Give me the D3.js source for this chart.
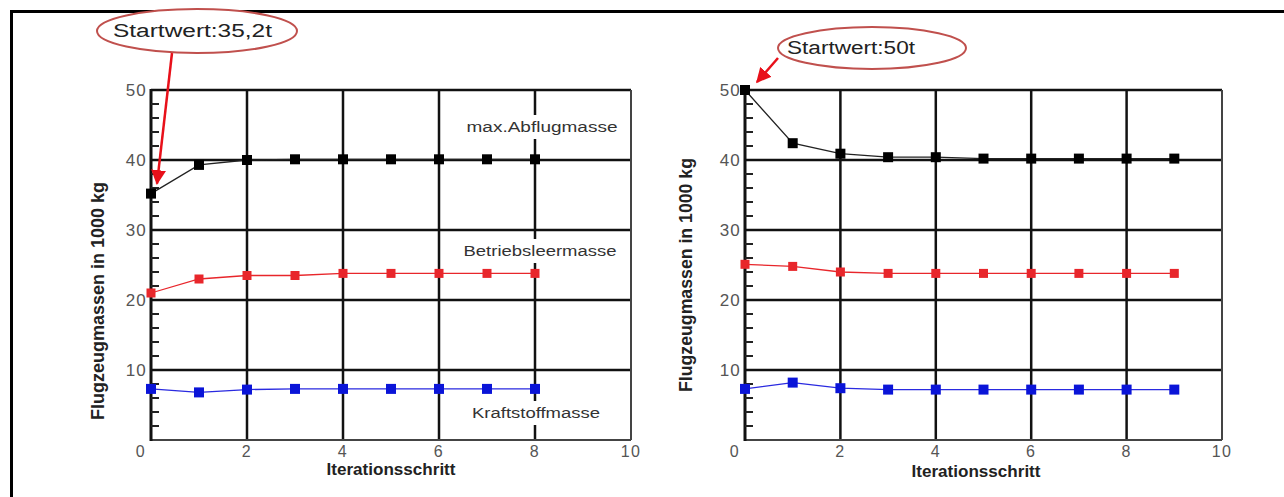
<!DOCTYPE html>
<html><head><meta charset="utf-8">
<script src="https://cdn.jsdelivr.net/npm/d3@7"></script>
<style>body{margin:0;background:#fff}svg{display:block}</style>
</head><body>
<svg id="c" width="1284" height="497"></svg>
<script>
const xTicks = [0, 2, 4, 6, 8, 10];
const yTicks = [0, 10, 20, 30, 40, 50];
const yMinor = [2, 4, 6, 8, 12, 14, 16, 18, 22, 24, 26, 28, 32, 34, 36, 38, 42, 44, 46, 48];

// Left chart (start value 35.2 t)
const stepsLeft = [0, 1, 2, 3, 4, 5, 6, 7, 8];
const maxAbflugLeft = [35.2, 39.3, 40.0, 40.1, 40.1, 40.1, 40.1, 40.1, 40.1];
const betriebsLeft = [21.0, 23.0, 23.5, 23.5, 23.8, 23.8, 23.8, 23.8, 23.8];
const kraftstoffLeft = [7.3, 6.8, 7.2, 7.3, 7.3, 7.3, 7.3, 7.3, 7.3];

// Right chart (start value 50 t)
const stepsRight = [0, 1, 2, 3, 4, 5, 6, 7, 8, 9];
const maxAbflugRight = [50.0, 42.4, 40.9, 40.4, 40.4, 40.2, 40.2, 40.2, 40.2, 40.2];
const betriebsRight = [25.1, 24.8, 24.0, 23.8, 23.8, 23.8, 23.8, 23.8, 23.8, 23.8];
const kraftstoffRight = [7.3, 8.2, 7.4, 7.2, 7.2, 7.2, 7.2, 7.2, 7.2, 7.2];

const seriesColors = ["#000000", "#e8262b", "#0a14d8"];
const seriesNames = ["max.Abflugmasse", "Betriebsleermasse", "Kraftstoffmasse"];
const lineColors = ["#222222", "#e8262b", "#2a2ae0"];

const svg = d3.select("#c");
const font = "'Liberation Sans', Arial, sans-serif";

// outer frame (top and left)
svg.append("line").attr("x1", 10).attr("x2", 1284).attr("y1", 11.5).attr("y2", 11.5).attr("stroke", "#000").attr("stroke-width", 3);
svg.append("line").attr("x1", 11.5).attr("x2", 11.5).attr("y1", 10).attr("y2", 497).attr("stroke", "#000").attr("stroke-width", 3);

function drawChart(cfg) {
  const x = d3.scaleLinear().domain([0, 10]).range([cfg.x0, cfg.x1]);
  const y = d3.scaleLinear().domain([0, 50]).range([cfg.y0, cfg.y1]);
  const g = svg.append("g");

  // gridlines
  g.selectAll(".gx").data(xTicks.slice(1, -1)).join("line")
    .attr("x1", d => x(d)).attr("x2", d => x(d)).attr("y1", y(0)).attr("y2", y(50))
    .attr("stroke", "#111").attr("stroke-width", 2.5);
  g.selectAll(".gy").data(yTicks.slice(1, -1)).join("line")
    .attr("x1", x(0)).attr("x2", x(10)).attr("y1", d => y(d)).attr("y2", d => y(d))
    .attr("stroke", "#111").attr("stroke-width", 2.5);

  // frame
  g.append("line").attr("x1", x(0)).attr("x2", x(10)).attr("y1", y(50)).attr("y2", y(50)).attr("stroke", "#111").attr("stroke-width", 2.5);
  g.append("line").attr("x1", x(10)).attr("x2", x(10)).attr("y1", y(50)).attr("y2", y(0)).attr("stroke", "#444").attr("stroke-width", 2);
  g.append("line").attr("x1", x(0)).attr("x2", x(10)).attr("y1", y(0)).attr("y2", y(0)).attr("stroke", "#444").attr("stroke-width", 2);
  g.append("line").attr("x1", x(0)).attr("x2", x(0)).attr("y1", y(0) + 1).attr("y2", y(50) - 1).attr("stroke", "#111").attr("stroke-width", 3);

  // minor ticks inward
  g.selectAll(".mt").data(yMinor).join("line")
    .attr("x1", x(0)).attr("x2", x(0) + 8).attr("y1", d => y(d)).attr("y2", d => y(d))
    .attr("stroke", "#222").attr("stroke-width", 2);

  // tick labels
  g.selectAll(".xl").data(xTicks).join("text")
    .attr("x", d => x(d) - (d === 0 ? 10 : 0)).attr("y", y(0) + 17)
    .attr("text-anchor", "middle").attr("font-family", font).attr("font-size", 16)
    .attr("letter-spacing", 1.4).attr("fill", "#555")
    .text(d => d);
  g.selectAll(".yl").data(yTicks.slice(1)).join("text")
    .attr("x", x(0) - 4).attr("y", d => y(d) + 6)
    .attr("text-anchor", "end").attr("font-family", font).attr("font-size", 17)
    .attr("letter-spacing", 1.2).attr("fill", "#555")
    .text(d => d);

  // axis titles
  g.append("text").attr("x", cfg.xTitleX).attr("y", cfg.xTitleY).attr("text-anchor", "middle")
    .attr("font-family", font).attr("font-size", 16).attr("font-weight", "bold").attr("fill", "#222")
    .attr("textLength", 129).attr("lengthAdjust", "spacingAndGlyphs")
    .text("Iterationsschritt");
  g.append("text").attr("transform", `translate(${cfg.yTitleX},${cfg.yTitleY}) rotate(-90)`)
    .attr("text-anchor", "middle")
    .attr("font-family", font).attr("font-size", 18).attr("font-weight", "bold").attr("fill", "#222")
    .attr("textLength", cfg.yTitleLen).attr("lengthAdjust", "spacingAndGlyphs")
    .text("Flugzeugmassen  in 1000 kg");

  // inline labels with white background
  if (cfg.labels) {
    cfg.labels.forEach(l => {
      const t = g.append("text").attr("x", l.x).attr("y", l.y + 5).attr("text-anchor", "middle")
        .attr("font-family", font).attr("font-size", 14).attr("fill", "#333")
        .attr("textLength", l.len).attr("lengthAdjust", "spacingAndGlyphs").text(l.text);
      const bb = t.node().getBBox();
      g.insert("rect", "text:last-child").attr("x", bb.x - 4).attr("y", bb.y - 4)
        .attr("width", bb.width + 8).attr("height", bb.height + 8).attr("fill", "#fff");
    });
  }

  // series
  cfg.series.forEach((vals, i) => {
    const pts = cfg.steps.map((s, j) => [s, vals[j]]);
    const line = d3.line().x(d => x(d[0])).y(d => y(d[1]));
    g.append("path").attr("d", line(pts)).attr("fill", "none")
      .attr("stroke", lineColors[i]).attr("stroke-width", 1.3);
    const sz = i === 1 ? 9 : 10;
    g.selectAll(".m" + i).data(pts).join("rect")
      .attr("x", d => x(d[0]) - sz / 2).attr("y", d => y(d[1]) - sz / 2)
      .attr("width", sz).attr("height", sz).attr("fill", seriesColors[i]);
  });

  return { x, y };
}

const L = drawChart({
  x0: 151, x1: 631, y0: 440, y1: 90,
  steps: stepsLeft, series: [maxAbflugLeft, betriebsLeft, kraftstoffLeft],
  xTitleX: 391, xTitleY: 475, yTitleX: 104, yTitleY: 301, yTitleLen: 238,
  labels: [
    { text: seriesNames[0], x: 542, y: 127, len: 151 },
    { text: seriesNames[1], x: 540, y: 251, len: 153 },
    { text: seriesNames[2], x: 536, y: 413, len: 128 }
  ]
});
const R = drawChart({
  x0: 745, x1: 1222, y0: 440, y1: 90,
  steps: stepsRight, series: [maxAbflugRight, betriebsRight, kraftstoffRight],
  xTitleX: 976, xTitleY: 477, yTitleX: 692, yTitleY: 275, yTitleLen: 234
});

// annotations
const annRed = "#c0504d";
const arrowRed = "#e8101a";
svg.append("defs").append("marker").attr("id", "ah").attr("viewBox", "0 0 10 10")
  .attr("refX", 9).attr("refY", 5).attr("markerWidth", 6).attr("markerHeight", 6)
  .attr("orient", "auto").attr("markerUnits", "strokeWidth")
  .append("path").attr("d", "M0,0 L10,5 L0,10 z").attr("fill", arrowRed);

function annotate(cx, cy, rx, ry, text, tx, len, ax1, ay1, ax2, ay2) {
  svg.append("ellipse").attr("cx", cx).attr("cy", cy).attr("rx", rx).attr("ry", ry)
    .attr("fill", "#fff").attr("stroke", annRed).attr("stroke-width", 2);
  svg.append("text").attr("x", tx).attr("y", cy + 6).attr("font-family", font).attr("font-size", 18)
    .attr("textLength", len).attr("lengthAdjust", "spacingAndGlyphs")
    .attr("fill", "#222").text(text);
  svg.append("line").attr("x1", ax1).attr("y1", ay1).attr("x2", ax2).attr("y2", ay2)
    .attr("stroke", arrowRed).attr("stroke-width", 2.5).attr("marker-end", "url(#ah)");
}
annotate(197, 31, 100, 22, "Startwert:35,2t", 113, 159, 172, 53, L.x(0) + 6, L.y(maxAbflugLeft[0]) - 10);
annotate(872, 48, 94, 21, "Startwert:50t", 787, 128, 778, 58, R.x(0) + 12, R.y(maxAbflugRight[0]) - 8);
</script>
</body></html>
